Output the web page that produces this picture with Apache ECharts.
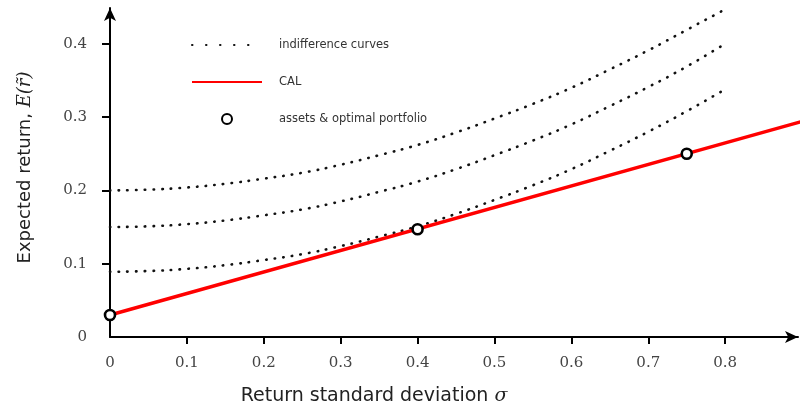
<!DOCTYPE html>
<html>
<head>
<meta charset="utf-8">
<script src="https://cdn.jsdelivr.net/npm/echarts@6/dist/echarts.min.js"></script>
<style>html,body{margin:0;padding:0;background:#fff;}#c{width:800px;height:404px;}</style>
</head>
<body>
<div id="c"></div>
<script>
// sigma values at which the indifference curves were read
const sigma = [0, 0.05, 0.1, 0.15, 0.2, 0.25, 0.3, 0.35, 0.4, 0.45, 0.5, 0.55, 0.6, 0.65, 0.7, 0.75, 0.8];
const curveLow  = [0.089, 0.090, 0.093, 0.098, 0.105, 0.113, 0.124, 0.137, 0.151, 0.168, 0.187, 0.207, 0.229, 0.254, 0.280, 0.308, 0.338];
const curveMid  = [0.150, 0.151, 0.154, 0.159, 0.166, 0.174, 0.185, 0.198, 0.212, 0.229, 0.248, 0.268, 0.290, 0.315, 0.341, 0.369, 0.400];
const curveHigh = [0.200, 0.201, 0.204, 0.209, 0.216, 0.224, 0.235, 0.248, 0.262, 0.279, 0.298, 0.318, 0.340, 0.365, 0.391, 0.419, 0.447];
// capital allocation line endpoints
const calSigma = [0, 0.9];
const calReturn = [0.03, 0.294];
// assets & optimal portfolio
const pointSigma = [0, 0.4, 0.75];
const pointReturn = [0.03, 0.147, 0.25];
// tick labels
const xTicks = [0, 0.1, 0.2, 0.3, 0.4, 0.5, 0.6, 0.7, 0.8];
const yTicks = [0, 0.1, 0.2, 0.3, 0.4];

const pairs = (xs, ys) => xs.map((x, i) => [x, ys[i]]);

const dotStyle = { color: '#111', width: 2.6, type: [0.5, 8.2], cap: 'round' };
const curveSeries = [curveLow, curveMid, curveHigh].map(c => ({
  name: 'indifference curves', type: 'line', data: pairs(sigma, c),
  symbol: 'none', showSymbol: false, smooth: true, lineStyle: dotStyle,
  itemStyle: { color: '#111', opacity: 0 }, z: 2
}));

const chart = echarts.init(document.getElementById('c'), null, { renderer: 'canvas' });
const tickFont = { fontFamily: 'DejaVu Serif', fontSize: 15, color: '#444' };
chart.setOption({
  backgroundColor: '#fff',
  animation: false,
  grid: { left: 110, right: 2, top: 8, bottom: 67, containLabel: false, outerBoundsMode: 'none' },
  legend: {
    left: 191, top: 39, orient: 'vertical', itemWidth: 70, itemHeight: 10, itemGap: 25, padding: 0,
    textStyle: { fontFamily: 'DejaVu Sans', fontSize: 11.5, lineHeight: 10, color: '#333', padding: [0, 0, 0, 12] },
    data: [
      { name: 'indifference curves', lineStyle: { type: [0.5, 13.5] }, itemStyle: { opacity: 0 } },
      { name: 'CAL', itemStyle: { opacity: 0 } },
      { name: 'assets & optimal portfolio' }
    ]
  },
  xAxis: {
    type: 'value', min: 0, max: 0.8947,
    name: 'Return standard deviation {m|σ}', nameLocation: 'middle', nameGap: 50,
    nameTextStyle: { fontFamily: 'DejaVu Sans', fontSize: 19, color: '#222', padding: [0, 160, 0, 0],
      rich: { m: { fontFamily: 'DejaVu Serif', fontStyle: 'italic', fontSize: 19, color: '#222' } } },
    axisLine: { lineStyle: { color: '#000', width: 2 }, symbol: ['none', 'arrow'], symbolSize: [9, 13] },
    axisTick: { show: true, length: 7, lineStyle: { color: '#000', width: 2 }, customValues: xTicks.slice(1) },
    axisLabel: Object.assign({ margin: 19, customValues: xTicks, formatter: v => v === 0 ? '0' : v.toFixed(1) }, tickFont),
    splitLine: { show: false }
  },
  yAxis: {
    type: 'value', min: 0, max: 0.4488,
    name: 'Expected return, {m|E(r\u0303)}', nameLocation: 'middle', nameGap: 76, nameRotate: 90,
    nameTextStyle: { fontFamily: 'DejaVu Sans', fontSize: 18, color: '#222', padding: [0, 0, 0, 10],
      rich: { m: { fontFamily: 'DejaVu Serif', fontStyle: 'italic', fontSize: 18, color: '#222' } } },
    axisLine: { lineStyle: { color: '#000', width: 2 }, symbol: ['none', 'arrow'], symbolSize: [9, 13] },
    axisTick: { show: true, length: 8, lineStyle: { color: '#000', width: 2 }, customValues: yTicks.slice(1) },
    axisLabel: Object.assign({ margin: 23, customValues: yTicks, formatter: v => v === 0 ? '0' : v.toFixed(1) }, tickFont),
    splitLine: { show: false }
  },
  series: curveSeries.concat([
    { name: 'CAL', type: 'line', data: pairs(calSigma, calReturn), symbol: 'none', showSymbol: false, clip: false,
      lineStyle: { color: '#ff0000', width: 3.4 }, itemStyle: { color: '#ff0000', opacity: 0 }, z: 3 },
    { name: 'assets & optimal portfolio', type: 'scatter', data: pairs(pointSigma, pointReturn),
      symbol: 'circle', symbolSize: 10,
      itemStyle: { color: '#ffffff', borderColor: '#000000', borderWidth: 2.6, opacity: 1 }, z: 4 }
  ])
});
</script>
</body>
</html>
